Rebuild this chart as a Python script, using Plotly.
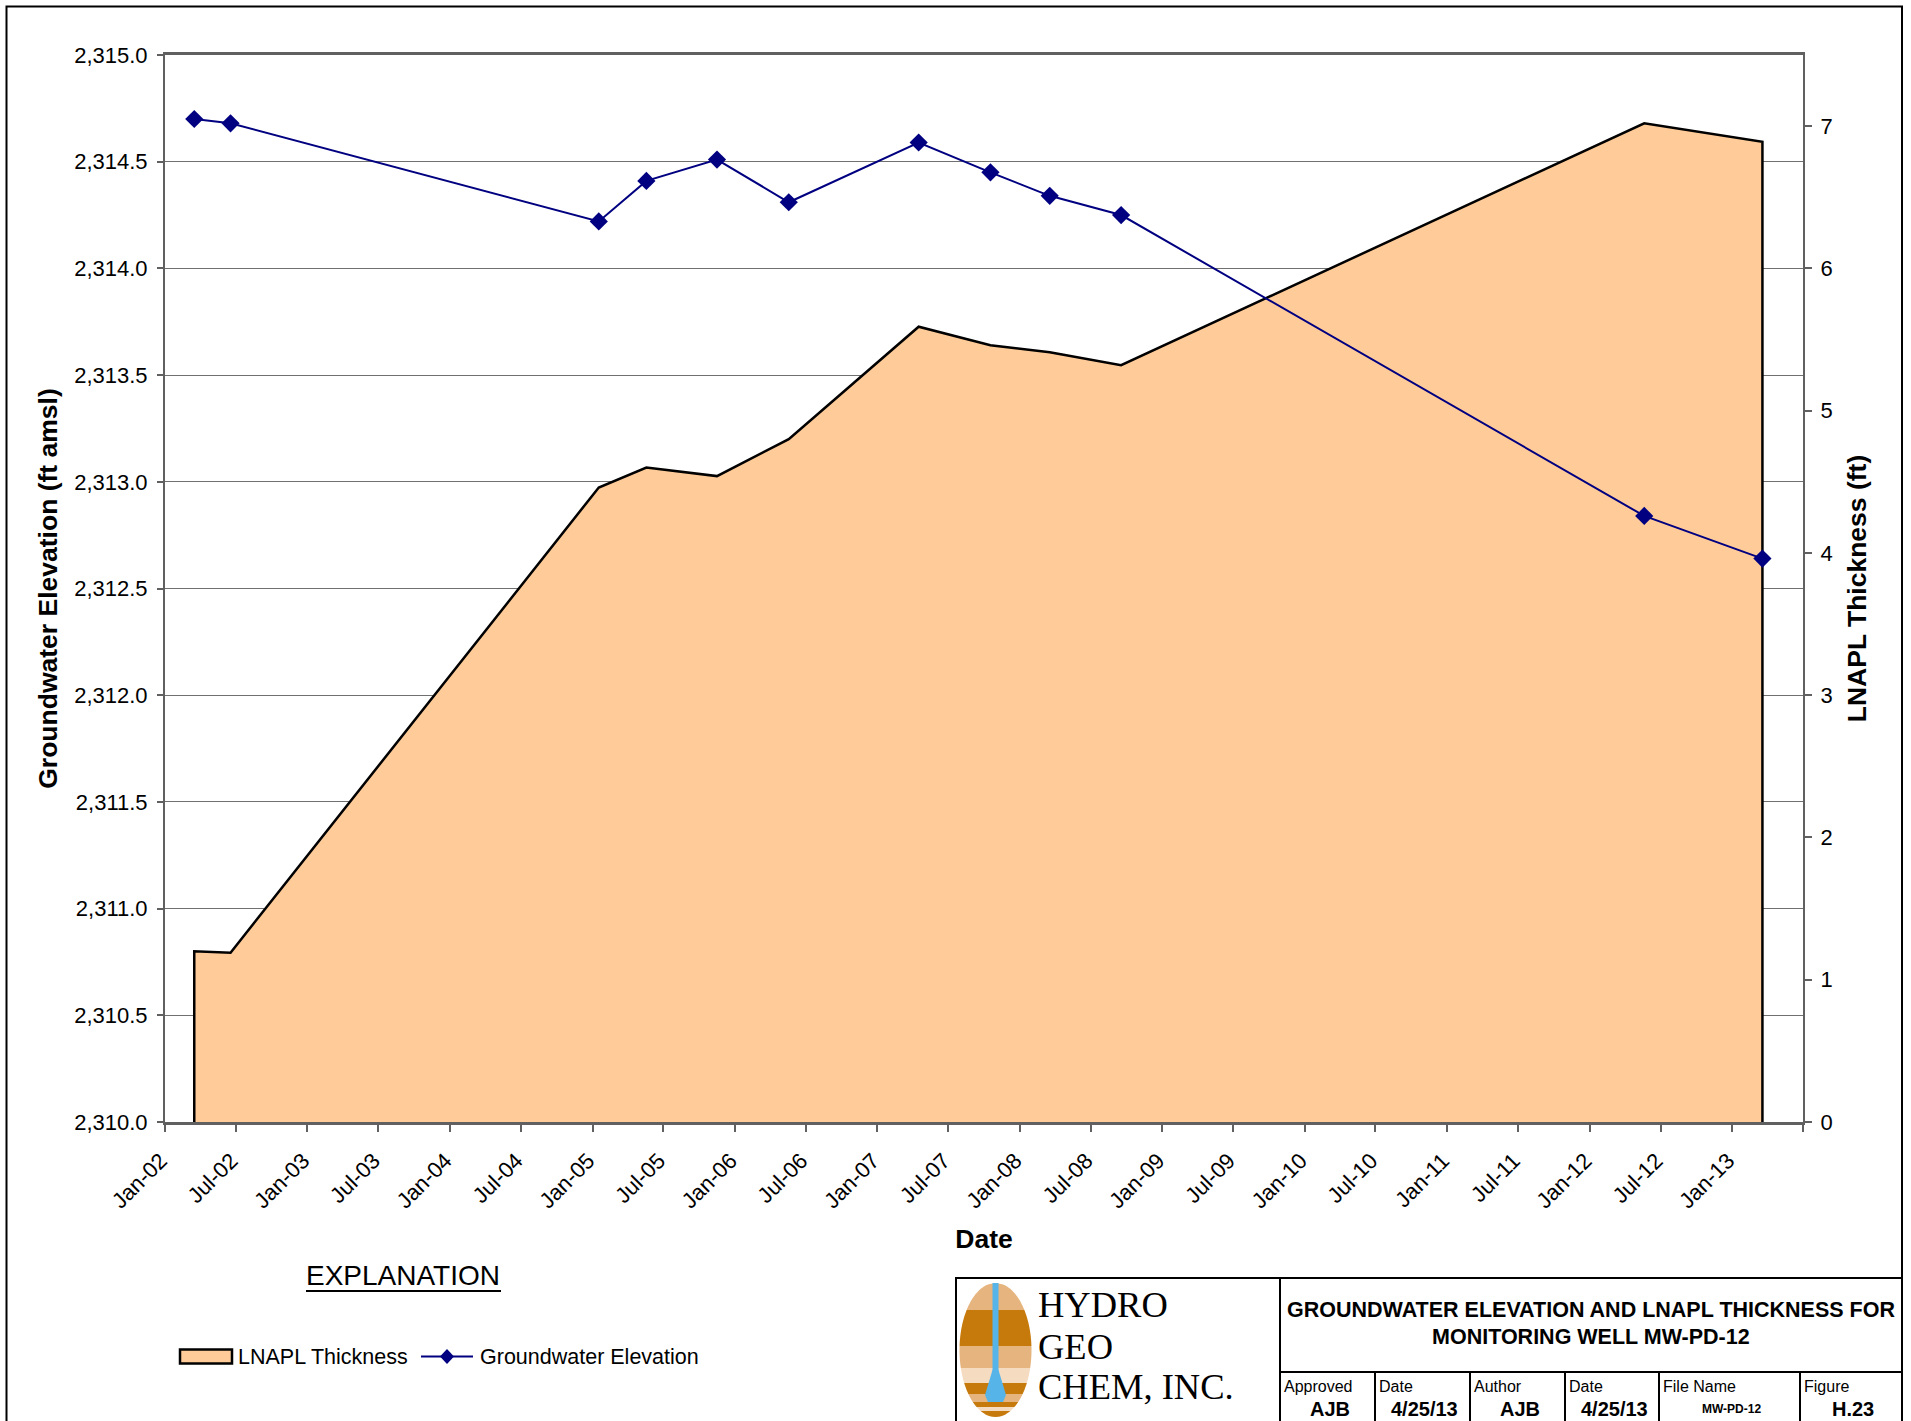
import numpy as np
import plotly.graph_objects as go

# ---- monitoring well MW-PD-12 measurements ----
sample_dates = ["2002-03-17", "2002-06-18", "2005-01-17", "2005-05-19", "2005-11-16",
                "2006-05-19", "2007-04-17", "2007-10-18", "2008-03-18", "2008-09-17",
                "2012-05-20", "2013-03-19"]
gw_elevation = [2314.70, 2314.68, 2314.22, 2314.41, 2314.51, 2314.31,
                2314.59, 2314.45, 2314.34, 2314.25, 2312.84, 2312.64]
lnapl_thickness = [1.20, 1.19, 4.46, 4.60, 4.54, 4.80,
                   5.59, 5.46, 5.41, 5.32, 7.02, 6.89]

# ---- axis ticks ----
date_ticks = ["2002-01-01", "2002-07-01", "2003-01-01", "2003-07-01", "2004-01-01",
              "2004-07-01", "2005-01-01", "2005-07-01", "2006-01-01", "2006-07-01",
              "2007-01-01", "2007-07-01", "2008-01-01", "2008-07-01", "2009-01-01",
              "2009-07-01", "2010-01-01", "2010-07-01", "2011-01-01", "2011-07-01",
              "2012-01-01", "2012-07-01", "2013-01-01", "2013-07-01"]
date_labels = ["Jan-02", "Jul-02", "Jan-03", "Jul-03", "Jan-04", "Jul-04", "Jan-05",
               "Jul-05", "Jan-06", "Jul-06", "Jan-07", "Jul-07", "Jan-08", "Jul-08",
               "Jan-09", "Jul-09", "Jan-10", "Jul-10", "Jan-11", "Jul-11", "Jan-12",
               "Jul-12", "Jan-13", ""]
elev_ticks = [2310.0, 2310.5, 2311.0, 2311.5, 2312.0, 2312.5,
              2313.0, 2313.5, 2314.0, 2314.5, 2315.0]
thick_ticks = [0, 1, 2, 3, 4, 5, 6, 7]

series_names = ["LNAPL Thickness", "Groundwater Elevation"]
AREA_FILL, AREA_EDGE, GW_COLOR = "#FFCC99", "#000000", "#000080"

W, H = 1911, 1421
ML, MR, MT, MB = 165, 108, 55, 299
PW, PH = W - ML - MR, H - MT - MB


def px(x):
    return (x - ML) / PW


def py(y):
    return (H - MB - y) / PH


SANS = "Liberation Sans, Arial, sans-serif"
SERIF = "Liberation Serif, Times New Roman, serif"

fig = go.Figure()

# LNAPL thickness area (closed down to zero at both ends)
area_x = [sample_dates[0]] + sample_dates + [sample_dates[-1]]
area_y = [0] + lnapl_thickness + [0]
fig.add_trace(go.Scatter(
    x=area_x, y=area_y, name=series_names[0], mode="lines",
    fill="tozeroy", fillcolor=AREA_FILL,
    line=dict(color=AREA_EDGE, width=2.5),
    yaxis="y", hoverinfo="skip"))

# groundwater elevation line
fig.add_trace(go.Scatter(
    x=sample_dates, y=gw_elevation, name=series_names[1],
    mode="lines+markers",
    line=dict(color=GW_COLOR, width=2),
    marker=dict(symbol="diamond", size=14, color=GW_COLOR),
    yaxis="y2"))

axis_font = dict(family=SANS, size=22, color="#000000")
title_font = dict(family=SANS, size=26.5, color="#000000")

fig.update_layout(
    width=W, height=H, autosize=False,
    margin=dict(l=ML, r=MR, t=MT, b=MB, pad=0),
    paper_bgcolor="#FFFFFF", plot_bgcolor="#FFFFFF",
    font=dict(family=SANS, color="#000000"),
    showlegend=False,
    xaxis=dict(
        type="date", range=["2002-01-01", "2013-07-01"],
        tickmode="array", tickvals=date_ticks, ticktext=[t + " " for t in date_labels],
        tickangle=-45, tickfont=axis_font, ticklabelstandoff=3,
        ticks="outside", ticklen=7, tickwidth=1.5, tickcolor="#606060",
        showline=True, linecolor="#606060", linewidth=2.5, mirror=True,
        showgrid=False, zeroline=False,
        title=dict(text="<b>Date</b>", font=title_font, standoff=18),
        automargin=False,
    ),
    yaxis=dict(
        side="right", range=[0, 7.5],
        tickmode="array", tickvals=thick_ticks, tickfont=axis_font, ticklabelstandoff=4,
        ticks="outside", ticklen=7, tickwidth=1.5, tickcolor="#606060",
        showline=True, linecolor="#606060", linewidth=2,
        showgrid=False, zeroline=False,
        title=dict(text="<b>LNAPL Thickness (ft)</b>", font=title_font, standoff=16),
        automargin=False,
    ),
    yaxis2=dict(
        side="left", overlaying="y", range=[2310, 2315],
        tickmode="array", tickvals=elev_ticks, tickformat=",.1f", tickfont=axis_font,
        ticklabelstandoff=5,
        ticks="outside", ticklen=6, tickwidth=1.5, tickcolor="#606060",
        showline=True, linecolor="#606060", linewidth=2,
        showgrid=True, gridcolor="#707070", gridwidth=1, zeroline=False,
        title=dict(text="<b>Groundwater Elevation (ft amsl)</b>", font=title_font, standoff=9),
        automargin=False,
    ),
)

shapes = []
annotations = []


def line(x0, y0, x1, y1, w=2, c="#000000"):
    shapes.append(dict(type="line", xref="paper", yref="paper",
                       x0=px(x0), y0=py(y0), x1=px(x1), y1=py(y1),
                       line=dict(color=c, width=w)))


def text(x, y, s, size, family=SANS, xanchor="left", bold=False, color="#000000"):
    annotations.append(dict(xref="paper", yref="paper", x=px(x), y=py(y),
                            text=f"<b>{s}</b>" if bold else s, showarrow=False,
                            xanchor=xanchor, yanchor="middle",
                            font=dict(family=family, size=size, color=color)))


def poly(points, fill, lw=0, lc="#000000"):
    path = "M " + " L ".join(f"{px(a):.5f},{py(b):.5f}" for a, b in points) + " Z"
    shapes.append(dict(type="path", xref="paper", yref="paper", path=path,
                       fillcolor=fill, line=dict(width=lw, color=lc)))


# page border
shapes.append(dict(type="rect", xref="paper", yref="paper",
                   x0=px(6.5), y0=py(6.5), x1=px(1902), y1=py(1424),
                   line=dict(color="#000000", width=2), fillcolor="rgba(0,0,0,0)"))

# explanation (legend)
text(403, 1275, "EXPLANATION", 28, xanchor="center")
line(306, 1291, 501, 1291, w=2)
LEG_Y = 1356.5
shapes.append(dict(type="rect", xref="paper", yref="paper",
                   x0=px(180), x1=px(232), y0=py(LEG_Y - 7), y1=py(LEG_Y + 7),
                   fillcolor=AREA_FILL, line=dict(color=AREA_EDGE, width=2.5)))
text(236, LEG_Y, series_names[0], 21.5)
line(421, LEG_Y, 473, LEG_Y, w=2, c=GW_COLOR)
poly([(447, LEG_Y - 7.5), (454, LEG_Y), (447, LEG_Y + 7.5), (440, LEG_Y)], GW_COLOR)
text(478, LEG_Y, series_names[1], 21.5)

# title block frame
TB_L, TB_T, TB_R, TB_B = 956, 1278, 1902, 1424
shapes.append(dict(type="rect", xref="paper", yref="paper",
                   x0=px(TB_L), y0=py(TB_T), x1=px(TB_R), y1=py(TB_B),
                   line=dict(color="#000000", width=2), fillcolor="#FFFFFF"))
line(1280, TB_T, 1280, TB_B)
line(1280, 1372, TB_R, 1372)
cell_edges = [1280, 1375, 1470, 1565, 1659, 1800, TB_R]
for xe in cell_edges[1:-1]:
    line(xe, 1372, xe, TB_B)

# logo: striped ellipse with a well casing
cx, cy, rx, ry = 995.5, 1350, 36, 67
bands = [(1283, 1310, "#E6B47E"), (1310, 1346, "#C77A0C"), (1346, 1368, "#E6B47E"),
         (1368, 1383, "#F5DCC0"), (1383, 1394, "#C77A0C"), (1394, 1402, "#E6B47E"),
         (1402, 1407, "#C77A0C"), (1407, 1411, "#F5DCC0"), (1411, 1417.5, "#C77A0C")]
for y0, y1, col in bands:
    ys = np.linspace(max(y0, cy - ry), min(y1, cy + ry), 24)
    half = rx * np.sqrt(np.clip(1 - ((ys - cy) / ry) ** 2, 0, 1))
    pts = [(cx - h, y) for h, y in zip(half, ys)] + [(cx + h, y) for h, y in zip(half[::-1], ys[::-1])]
    poly(pts, col)
# casing and screen
shapes.append(dict(type="rect", xref="paper", yref="paper",
                   x0=px(992.5), x1=px(998.5), y0=py(1283), y1=py(1385),
                   fillcolor="#56B4E9", line=dict(width=0)))
poly([(992.5, 1370), (998.5, 1370), (1006, 1395), (1003, 1402), (988, 1402), (985, 1395)], "#56B4E9")

text(1036, 1305, "HYDRO", 36.5, family=SERIF)
text(1036, 1346, "GEO", 36.5, family=SERIF)
text(1036, 1387, "CHEM, INC.", 36.5, family=SERIF)

text(1591, 1310, "GROUNDWATER ELEVATION AND LNAPL THICKNESS FOR", 21.5, xanchor="center", bold=True)
text(1591, 1337, "MONITORING WELL MW-PD-12", 21.5, xanchor="center", bold=True)

cell_heads = ["Approved", "Date", "Author", "Date", "File Name", "Figure"]
cell_values = ["AJB", "4/25/13", "AJB", "4/25/13", "MW-PD-12", "H.23"]
value_sizes = [20, 20, 20, 20, 12, 20]
for i, (hd, val) in enumerate(zip(cell_heads, cell_values)):
    x0, x1 = cell_edges[i], cell_edges[i + 1]
    text(x0 + 2, 1386, hd, 16)
    text((x0 + x1) / 2 + 2, 1409, val, value_sizes[i], xanchor="center", bold=True)

fig.update_layout(shapes=shapes, annotations=annotations)
fig.write_html("out.html")
